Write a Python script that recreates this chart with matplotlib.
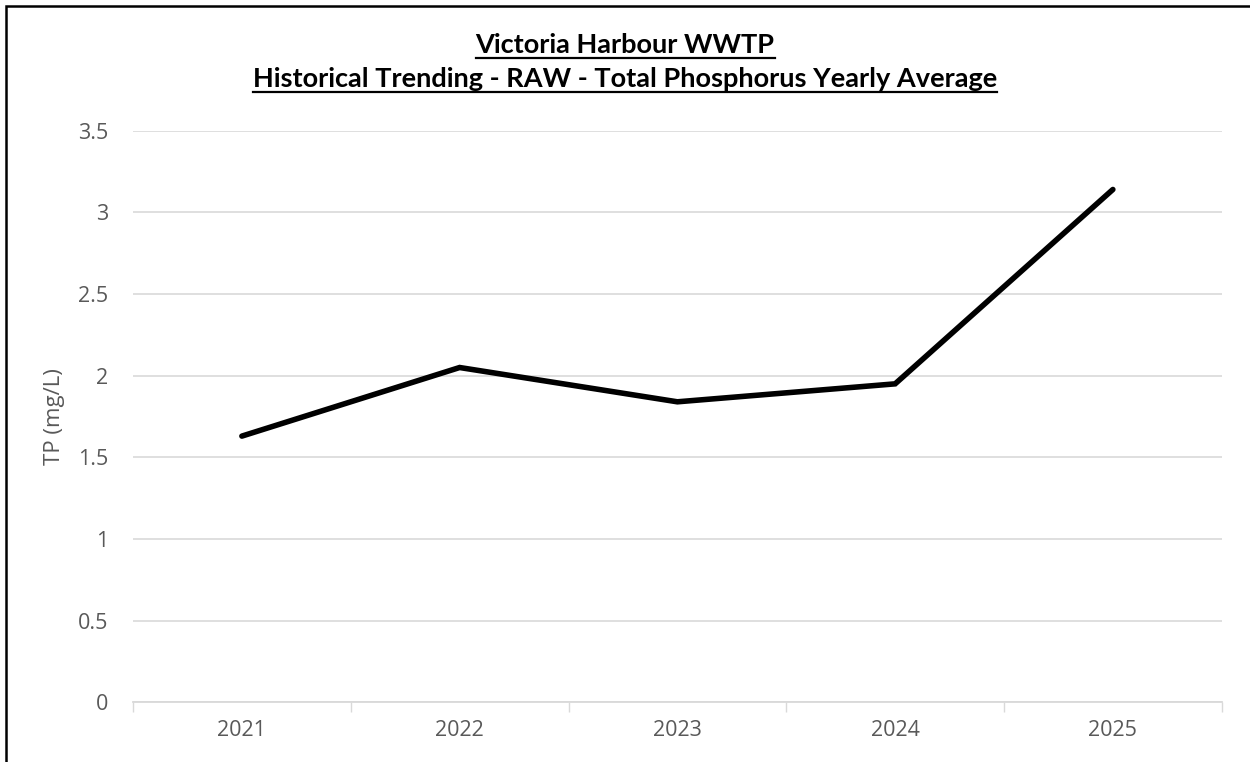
import matplotlib.pyplot as plt
from matplotlib.patches import Rectangle

# data
years = ['2021', '2022', '2023', '2024', '2025']
tp_avg = [1.63, 2.05, 1.84, 1.95, 3.14]
y_ticks = [0, 0.5, 1, 1.5, 2, 2.5, 3, 3.5]
y_tick_labels = ['0', '0.5', '1', '1.5', '2', '2.5', '3', '3.5']

title_lines = ['Victoria Harbour WWTP',
               'Historical Trending - RAW - Total Phosphorus Yearly Average']

grid_col = '#d9d9d9'
text_col = '#595959'
tick_font = ['Open Sans', 'DejaVu Sans']
title_font = ['Lato', 'DejaVu Sans']

fig = plt.figure(figsize=(12.5, 7.62), dpi=100)
ax = fig.add_axes([0.1064, 0.0783, 0.871, 0.7502])

x = list(range(len(years)))
ax.plot(x, tp_avg, color='black', linewidth=4.0, solid_capstyle='round',
        solid_joinstyle='miter', zorder=3)

ax.set_xlim(-0.5, len(years) - 0.5)
ax.set_ylim(0, 3.5)
ax.set_yticks(y_ticks)
ax.set_yticklabels(y_tick_labels, family=tick_font, fontsize=15.5, color=text_col)
ax.set_xticks(x)
ax.set_xticklabels(years, family=tick_font, fontsize=15.5, color=text_col)
# category boundaries carry the little tick marks
ax.set_xticks([i - 0.5 for i in range(len(years) + 1)], minor=True)
ax.tick_params(axis='x', which='major', length=0, pad=13)
ax.tick_params(axis='x', which='minor', length=7, width=1, color=grid_col)
ax.tick_params(axis='y', length=0, pad=18)

ax.grid(axis='y', color=grid_col, linewidth=1.2, zorder=0)
for side in ['top', 'right', 'left']:
    ax.spines[side].set_visible(False)
ax.spines['bottom'].set_color(grid_col)
ax.spines['bottom'].set_linewidth(1.3)

ax.set_ylabel('TP (mg/L)', family=tick_font, fontsize=16, color=text_col, labelpad=9)

# two-line underlined title
for i, line in enumerate(title_lines):
    t = fig.text(0.5, 1 - (45 + 34 * i) / 762, line, ha='center', va='center',
                 family=title_font, fontsize=19.5, fontweight='bold', color='black')
    fig.canvas.draw()
    bb = t.get_window_extent()
    y_ul = bb.y0 - 1
    fig.add_artist(plt.Line2D([bb.x0 / 1250, bb.x1 / 1250], [y_ul / 762, y_ul / 762],
                              transform=fig.transFigure, color='black', linewidth=1.6))

# chart border running off the right and bottom of the picture
fig.add_artist(Rectangle((6 / 1250, -0.05), 1.1, 1 - 6 / 762 + 0.05, transform=fig.transFigure,
                         fill=False, edgecolor='black', linewidth=1.8))

fig.savefig('out.png', dpi=100)
